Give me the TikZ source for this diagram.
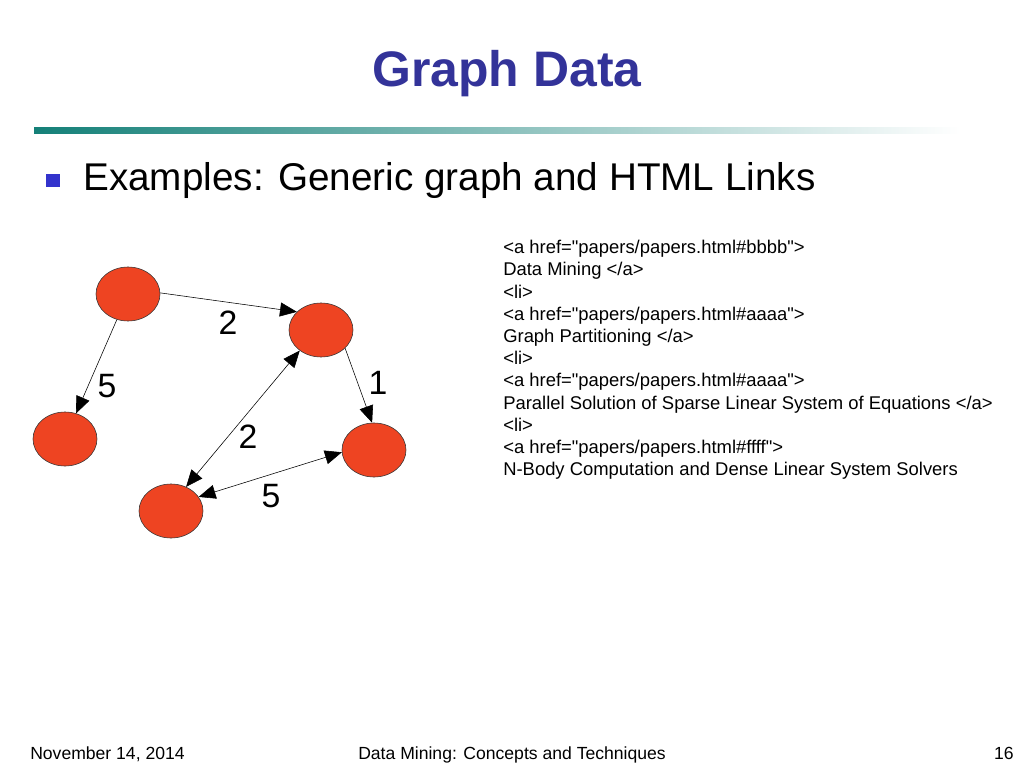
\documentclass[tikz,border=0pt]{standalone}
\usepackage{fontspec}
\setmainfont{Liberation Sans}
\definecolor{titleblue}{RGB}{51,51,153}
\definecolor{bulletblue}{RGB}{51,51,204}
\definecolor{barteal}{RGB}{20,128,120}
\definecolor{nodered}{RGB}{238,68,34}
\usetikzlibrary{arrows.meta,shapes.geometric}
\tikzset{
  vertex/.style={ellipse, draw=black!80, thin, fill=nodered, minimum width=1.6cm, minimum height=1.35cm, inner sep=0pt},
  link/.style={-{Triangle[length=12pt,width=10pt]}, thin},
  twolink/.style={{Triangle[length=12pt,width=10pt]}-{Triangle[length=12pt,width=10pt]}, thin},
  weight/.style={font=\fontsize{24}{24}\selectfont},
}

\begin{document}
\begin{tikzpicture}[x=0.025cm,y=-0.025cm]
  \useasboundingbox (0,0) rectangle (1024,768);

  % Title
  \node[font=\fontsize{35.5}{36}\selectfont\bfseries, text=titleblue, anchor=base, inner sep=0pt] (title) at (507,87) {Graph Data};
  \shade[left color=barteal, right color=white] (34,128) rectangle (960,134);

  % Bullet
  \fill[bulletblue] (46,174) rectangle (60,187);
  \node[font=\fontsize{27.5}{30}\selectfont, anchor=base west, inner sep=0pt] (bullet) at (83,191) {Examples: Generic graph and HTML Links};

  % Graph
  \node[vertex] (a) at (128,294) {};
  \node[vertex] (b) at (321,330) {};
  \node[vertex] (c) at (65,439) {};
  \node[vertex] (d) at (374,450) {};
  \node[vertex] (e) at (171,511) {};

  \draw[link] (a.2) -- (b.143);
  \draw[link] (a) -- (c);
  \draw[link] (b.323) -- (d.94);
  \draw[twolink] (e.58) -- (b.224);
  \draw[twolink] (e.27) -- (d.184);

  \node[weight] (w1) at (228,323) {2};
  \node[weight] (w2) at (107,386) {5};
  \node[weight] (w3) at (378,383) {1};
  \node[weight] (w4) at (248,437) {2};
  \node[weight] (w5) at (271,496) {5};

  % HTML links
  \node[font=\fontsize{13.1}{15.8}\selectfont, align=left, anchor=north west, inner sep=0pt] (html) at (503,240) {%
    <a href=\textquotedbl papers/papers.html\#bbbb\textquotedbl>\\
    Data Mining </a>\\
    <li>\\
    <a href=\textquotedbl papers/papers.html\#aaaa\textquotedbl>\\
    Graph Partitioning </a>\\
    <li>\\
    <a href=\textquotedbl papers/papers.html\#aaaa\textquotedbl>\\
    Parallel Solution of Sparse Linear System of Equations </a>\\
    <li>\\
    <a href=\textquotedbl papers/papers.html\#ffff\textquotedbl>\\
    N-Body Computation and Dense Linear System Solvers};

  % Footer
  \node[font=\fontsize{12.5}{14}\selectfont, anchor=base west, inner sep=0pt] (date) at (30,759) {November 14, 2014};
  \node[font=\fontsize{12.5}{14}\selectfont, anchor=base, inner sep=0pt] (course) at (512,759) {Data Mining: Concepts and Techniques};
  \node[font=\fontsize{12.5}{14}\selectfont, anchor=base east, inner sep=0pt] (page) at (1014,759) {16};
\end{tikzpicture}
\end{document}
